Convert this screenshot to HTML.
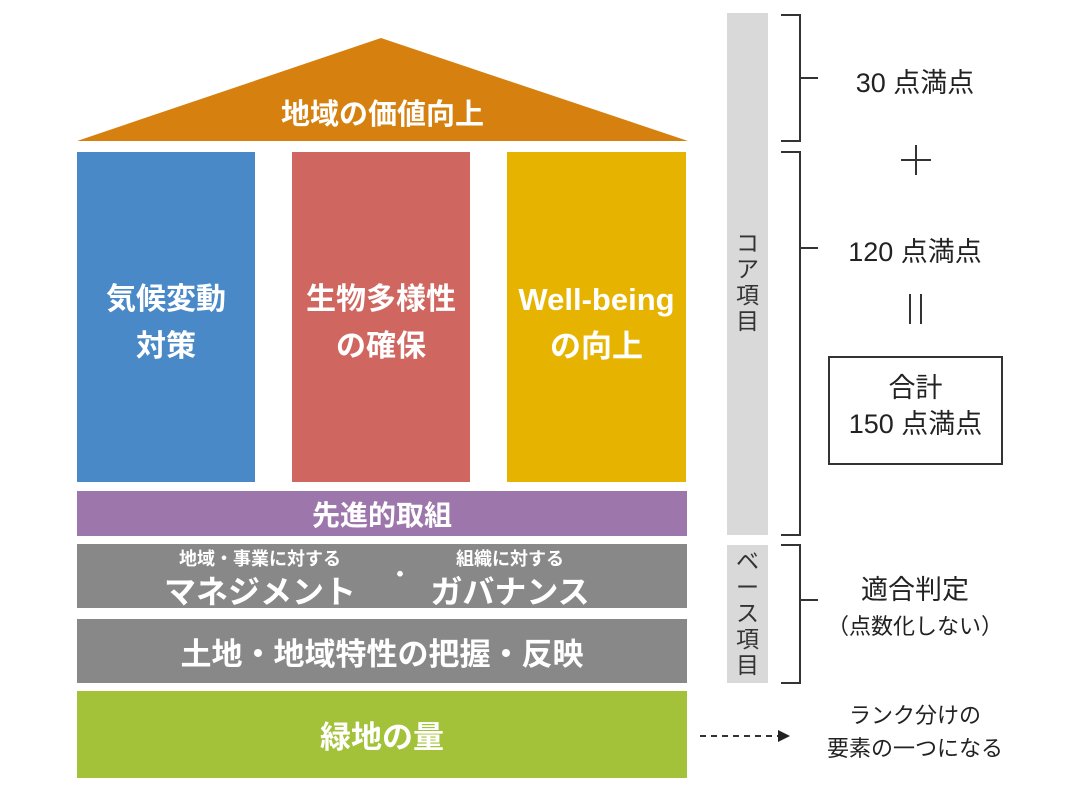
<!DOCTYPE html>
<html><head><meta charset="utf-8"><style>
body{margin:0;width:1068px;height:800px;background:#fff;position:relative;overflow:hidden;font-family:"Liberation Sans","Noto Sans CJK JP",sans-serif}
.a{position:absolute}
.w{color:#fff;font-weight:bold;text-align:center;display:flex;align-items:center;justify-content:center;flex-direction:column;white-space:nowrap}
.t{color:#222;text-align:center;position:absolute}
</style></head><body>
<svg class="a" style="left:0;top:0" width="1068" height="800">
<polygon points="381,38 77,141 688,141" fill="#d6800f"/>
<g stroke="#333" stroke-width="2" fill="none">
<polyline points="781,15 800,15 800,141 781,141"/>
<line x1="800" y1="78" x2="818" y2="78"/>
<polyline points="781,152 800,152 800,535 781,535"/>
<line x1="800" y1="248" x2="818" y2="248"/>
<polyline points="781,545 800,545 800,683 781,683"/>
<line x1="800" y1="600" x2="818" y2="600"/>
<line x1="700" y1="736" x2="778" y2="736" stroke-dasharray="6,5"/>
<line x1="916" y1="145" x2="916" y2="175"/><line x1="901" y1="160" x2="931" y2="160"/>
<line x1="910" y1="294" x2="910" y2="324"/><line x1="921" y1="294" x2="921" y2="324"/>
</g>
<polygon points="778,730 790,736 778,742" fill="#222"/>
<rect x="829" y="357" width="173" height="107" fill="none" stroke="#333" stroke-width="2"/>
</svg>
<div class="a w" style="left:77px;top:90px;width:611px;height:44px;font-size:29px">地域の価値向上</div>
<div class="a w" style="left:77px;top:152px;width:178px;height:340px;background:#4a89c8;font-size:30px;line-height:47px;justify-content:flex-start;padding-top:0;height:330px"><div style="margin-top:124px">気候変動<br>対策</div></div>
<div class="a w" style="left:292px;top:152px;width:178px;height:330px;background:#d06660;font-size:30px;line-height:47px;justify-content:flex-start"><div style="margin-top:124px">生物多様性<br>の確保</div></div>
<div class="a w" style="left:507px;top:152px;width:179px;height:330px;background:#e6b300;font-size:31px;line-height:47px;justify-content:flex-start"><div style="margin-top:124px">Well-being<br>の向上</div></div>
<div class="a w" style="left:77px;top:491px;width:610px;height:45px;background:#9d76ab;font-size:28px">先進的取組</div>
<div class="a" style="left:77px;top:544px;width:610px;height:64px;background:#888"></div>
<div class="a w" style="left:130px;top:546px;width:260px;height:24px;font-size:18px">地域・事業に対する</div>
<div class="a w" style="left:405px;top:546px;width:210px;height:24px;font-size:18px">組織に対する</div>
<div class="a w" style="left:120px;top:570px;width:280px;height:40px;font-size:32px">マネジメント</div>
<div class="a w" style="left:385px;top:558px;width:30px;height:30px;font-size:22px">・</div>
<div class="a w" style="left:400px;top:570px;width:220px;height:40px;font-size:32px">ガバナンス</div>
<div class="a w" style="left:77px;top:619px;width:610px;height:64px;background:#888;font-size:31px">土地・地域特性の把握・反映</div>
<div class="a w" style="left:77px;top:691px;width:610px;height:87px;background:#a3c23a;font-size:31px">緑地の量</div>
<div class="a" style="left:727px;top:13px;width:41px;height:522px;background:#d9d9d9"></div>
<div class="a" style="left:727px;top:545px;width:41px;height:138px;background:#d9d9d9"></div>
<div class="t" style="left:727px;top:230px;width:41px;font-size:23px;line-height:26px;color:#333">コ<br>ア<br>項<br>目</div>
<div class="t" style="left:727px;top:548px;width:41px;font-size:23px;line-height:26px;color:#333">ベ<br>ー<br>ス<br>項<br>目</div>
<div class="t" style="left:830px;top:61px;width:170px;font-size:27px">30 点満点</div>
<div class="t" style="left:830px;top:230px;width:170px;font-size:27px">120 点満点</div>
<div class="t" style="left:829px;top:370px;width:173px;font-size:27px;line-height:36px">合計<br>150 点満点</div>
<div class="t" style="left:820px;top:568px;width:190px;font-size:27px">適合判定</div>
<div class="t" style="left:810px;top:609px;width:210px;font-size:22px">（点数化しない）</div>
<div class="t" style="left:800px;top:699px;width:230px;font-size:22px;line-height:33px">ランク分けの<br>要素の一つになる</div>
</body></html>
